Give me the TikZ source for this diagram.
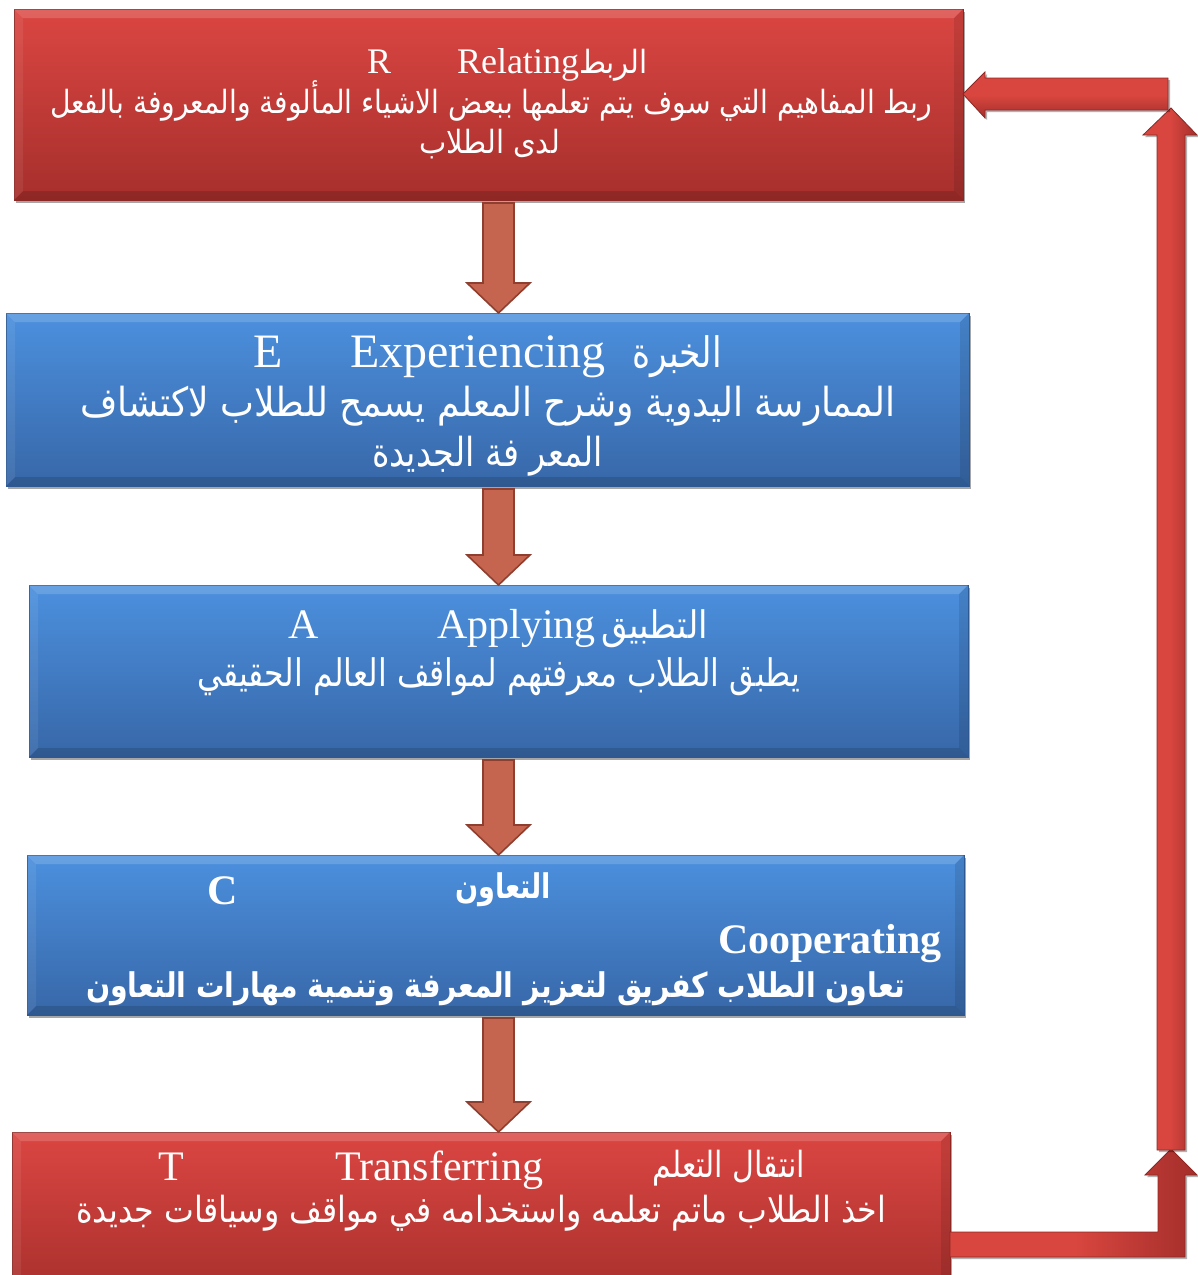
\documentclass[tikz,border=0pt]{standalone}
\usepackage{fontspec}
\setmainfont{Liberation Serif}
\newfontfamily\arabicfont[Script=Arabic]{DejaVu Sans}
\usetikzlibrary{shadows,calc}
\TeXXeTstate=1
\definecolor{redTop}{HTML}{DB4642}
\definecolor{redBot}{HTML}{A62F2C}
\definecolor{redEdge}{HTML}{8E2825}
\definecolor{blueTop}{HTML}{4C90DE}
\definecolor{blueBot}{HTML}{3767A8}
\definecolor{blueEdge}{HTML}{2E5A94}
\definecolor{brownFill}{HTML}{C6654F}
\definecolor{brownEdge}{HTML}{8E3F2F}
\definecolor{arrLight}{HTML}{D9463F}
\definecolor{arrDark}{HTML}{A42E2B}
% W = width in pt, S = font size, T = text (the text carries its own \beginR ... \endR)
\newcommand{\artx}[3]{\resizebox{#1pt}{\height}{\fontsize{#2}{#2}\arabicfont #3}}
\newcommand{\artxb}[3]{\resizebox{#1pt}{\height}{\fontsize{#2}{#2}\arabicfont\bfseries #3}}
\newcommand{\lat}[2]{\fontsize{#1}{#1}\selectfont #2}
\newcommand{\bevel}[1]{%
  \fill[white,opacity=.16] (#1.north west) -- (#1.north east) -- ([shift={(-9,-9)}]#1.north east) -- ([shift={(9,-9)}]#1.north west) -- cycle;
  \fill[black,opacity=.14] (#1.south west) -- (#1.south east) -- ([shift={(-9,9)}]#1.south east) -- ([shift={(9,9)}]#1.south west) -- cycle;
  \fill[white,opacity=.07] (#1.north west) -- ([shift={(9,-9)}]#1.north west) -- ([shift={(9,9)}]#1.south west) -- (#1.south west) -- cycle;
  \fill[black,opacity=.10] (#1.north east) -- ([shift={(-9,-9)}]#1.north east) -- ([shift={(-9,9)}]#1.south east) -- (#1.south east) -- cycle;}
\newcommand{\dnarrow}[2]{%
  \path let \p1=(#1.south), \p2=(#2.north) in
    [dnarr] (483pt,\y1-3pt) -- (514pt,\y1-3pt) -- (514pt,\y2+30pt) -- (530pt,\y2+30pt)
      -- (498.5pt,\y2) -- (467pt,\y2+30pt) -- (483pt,\y2+30pt) -- cycle;}
\tikzset{
  panel/.style={anchor=north west, inner sep=0pt, outer sep=0pt, line width=0.8pt,
    drop shadow={shadow xshift=2pt, shadow yshift=-3pt, opacity=0.35, fill=black}},
  redpanel/.style={panel, draw=redEdge, top color=redTop, bottom color=redBot},
  bluepanel/.style={panel, draw=blueEdge, top color=blueTop, bottom color=blueBot},
  txt/.style={anchor=base west, inner sep=0pt, outer sep=0pt, text=white},
  dnarr/.style={draw=brownEdge, fill=brownFill, line width=1.6pt, line join=miter},
  vred/.style={draw=redEdge, line width=0.8pt, left color=arrLight, right color=arrDark, middle color=arrLight,
    drop shadow={shadow xshift=2pt, shadow yshift=-2pt, opacity=0.3, fill=black}},
  hred/.style={draw=redEdge, line width=0.8pt, top color=arrLight, bottom color=arrDark, middle color=arrLight,
    drop shadow={shadow xshift=2pt, shadow yshift=-2pt, opacity=0.3, fill=black}},
}
\begin{document}
\begin{tikzpicture}[x=1pt,y=1pt]
\fill[white] (0,0) rectangle (1198,-1275);
\useasboundingbox (0,0) rectangle (1198,-1275);

% boxes
\node[redpanel, minimum width=949pt, minimum height=191pt] (R) at (14,-9) {};
\node[bluepanel, minimum width=963pt, minimum height=173pt] (E) at (6,-313) {};
\node[bluepanel, minimum width=939pt, minimum height=172pt] (A) at (29,-585) {};
\node[bluepanel, minimum width=937pt, minimum height=160pt] (C) at (27,-855) {};
\node[redpanel, minimum width=938pt, minimum height=170pt] (T) at (12,-1132) {};
\bevel{R}\bevel{E}\bevel{A}\bevel{C}\bevel{T}

% down arrows
\dnarrow{R}{E}
\dnarrow{E}{A}
\dnarrow{A}{C}
\dnarrow{C}{T}

% feedback loop on the right
\coordinate (loopStart) at (T.east |- 0,-1232);
\coordinate (loopTip) at (R.east |- 0,-94);
\path[vred] (loopStart) -- (1158,-1232) -- (1158,-1175) -- (1145,-1175) -- (1171,-1149)
  -- (1197,-1175) -- (1185,-1175) -- (1185,-1257) -- (loopStart |- 0,-1257) -- cycle;
\path[vred] (1157,-1150) -- (1157,-135) -- (1143,-135) -- (1171,-108) -- (1197,-135)
  -- (1185,-135) -- (1185,-1150) -- cycle;
\path[hred] (1168,-78) -- (985,-78) -- (985,-72) -- (loopTip) -- (985,-118) -- (985,-110)
  -- (1168,-110) -- cycle;

% R texts
\node[txt] (rL) at (367,-73) {\lat{36}{R}};
\node[txt] (rW) at (457,-73) {\lat{36}{Relating}};
\node[txt] (rA1) at (579,-73) {\artx{69}{32}{\beginR الربط\endR}};
\node[txt] (rA2) at (50,-113) {\artx{882}{32}{\beginR ربط المفاهيم التي سوف يتم تعلمها ببعض الاشياء المألوفة والمعروفة بالفعل\endR}};
\node[txt] (rA3) at (419,-153) {\artx{141}{32}{\beginR لدى الطلاب\endR}};

% E texts
\node[txt] (eL) at (253,-367) {\lat{48}{E}};
\node[txt] (eW) at (350,-367) {\lat{48}{Experiencing}};
\node[txt] (eA1) at (632,-367) {\artx{90}{42}{\beginR الخبرة\endR}};
\node[txt] (eA2) at (80,-416) {\artx{815}{40}{\beginR الممارسة اليدوية وشرح المعلم يسمح للطلاب لاكتشاف\endR}};
\node[txt] (eA3) at (372,-466) {\artx{231}{40}{\beginR المعر فة الجديدة\endR}};

% A texts
\node[txt] (aL) at (288,-638) {\lat{42}{A}};
\node[txt] (aW) at (437,-638) {\lat{42}{Applying}};
\node[txt] (aA1) at (601,-638) {\artx{107}{38}{\beginR التطبيق\endR}};
\node[txt] (aA2) at (197,-686) {\artx{603}{38}{\beginR يطبق الطلاب معرفتهم لمواقف العالم الحقيقي\endR}};

% C texts
\node[txt] (cL) at (207,-904) {\lat{42}{\bfseries C}};
\node[txt] (cA1) at (455,-898) {\artxb{96}{34}{\beginR التعاون\endR}};
\node[txt] (cW) at (718,-953) {\lat{42}{\bfseries Cooperating}};
\node[txt] (cA2) at (86,-997) {\artxb{819}{34}{\beginR تعاون الطلاب كفريق لتعزيز  المعرفة وتنمية مهارات التعاون\endR}};

% T texts
\node[txt] (tL) at (158,-1180) {\lat{42}{T}};
\node[txt] (tW) at (335,-1180) {\lat{42}{Transferring}};
\node[txt] (tA1) at (652,-1177) {\artx{153}{36}{\beginR انتقال التعلم\endR}};
\node[txt] (tA2) at (76,-1222) {\artx{810}{36}{\beginR اخذ الطلاب ماتم تعلمه واستخدامه في مواقف وسياقات جديدة\endR}};
\end{tikzpicture}
\end{document}
